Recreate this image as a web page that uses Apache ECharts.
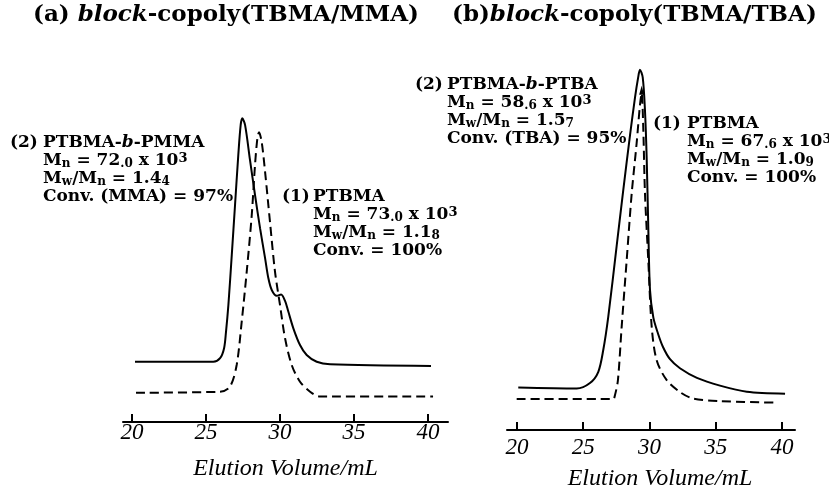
<!DOCTYPE html>
<html>
<head>
<meta charset="utf-8">
<script src="https://cdn.jsdelivr.net/npm/echarts@6/dist/echarts.min.js"></script>
<title>GPC block copolymers</title>
<style>
  html, body { margin: 0; padding: 0; background: #fff; }
  #main { width: 829px; height: 491px; }
</style>
</head>
<body>
<div id="main"></div>
<script>
// elution volume (mL) and detector signal (arb. units)

// (a) TBMA/MMA : (2) PTBMA-b-PMMA, solid
var volA2 = [20.2, 25.49, 25.95, 26.22, 26.35, 26.51, 26.74, 26.96, 27.18, 27.34, 27.45, 27.64, 27.97, 28.31, 28.65, 28.99, 29.21, 29.44, 29.78, 30.07, 30.34, 30.56, 30.9, 31.35, 31.8, 32.48, 33.38, 40.2];
var sigA2 = [18.7, 18.7, 19.8, 22.9, 28.0, 36.3, 51.9, 67.4, 82.9, 92.2, 94.3, 92.2, 81.4, 70.5, 60.2, 50.9, 44.7, 41.0, 39.2, 39.6, 37.6, 34.3, 29.1, 23.9, 20.8, 18.7, 17.9, 17.4];
// (a) (1) PTBMA precursor, dashed
var volA1 = [20.27, 25.95, 26.62, 27.07, 27.41, 27.75, 28.09, 28.31, 28.47, 28.58, 28.76, 28.99, 29.32, 29.66, 30.0, 30.34, 30.79, 31.35, 32.03, 32.7, 40.34];
var sigA1 = [9.1, 9.4, 11.0, 17.7, 31.1, 46.7, 64.3, 79.8, 88.1, 90.0, 87.0, 77.7, 62.2, 46.7, 36.3, 26.0, 17.7, 12.5, 9.4, 7.9, 7.9];

// (b) TBMA/TBA : (2) PTBMA-b-PTBA, solid
var volB2 = [20.1, 24.51, 25.51, 26.14, 26.51, 26.89, 27.52, 28.02, 28.53, 28.91, 29.15, 29.28, 29.49, 29.66, 29.79, 29.91, 30.04, 30.29, 30.64, 31.02, 31.55, 32.3, 33.58, 35.32, 37.34, 40.23];
var sigB2 = [13.2, 12.9, 14.6, 18.1, 24.8, 35.2, 57.1, 74.5, 91.6, 103.4, 109.7, 112.0, 109.6, 99.4, 84.5, 63.1, 43.5, 35.0, 30.0, 25.8, 22.0, 19.2, 16.2, 13.8, 11.9, 11.3];
// (b) (1) PTBMA precursor, dashed
var volB1 = [19.98, 27.25, 27.4, 27.62, 27.9, 28.28, 28.66, 29.03, 29.28, 29.41, 29.53, 29.66, 29.91, 30.17, 30.54, 31.3, 32.3, 33.28, 35.32, 39.6];
var sigB1 = [9.6, 9.6, 10.9, 15.5, 32.0, 52.8, 73.6, 89.1, 100.9, 104.7, 94.1, 73.6, 52.8, 32.0, 21.7, 15.5, 11.8, 9.8, 9.0, 8.5];

var tickVals = [20, 25, 30, 35, 40];
var axisTitle = 'Elution Volume/mL';

function zip(xs, ys) {
  return xs.map(function (x, i) { return [x, ys[i]]; });
}

var serif = '"DejaVu Serif", serif';
var times = '"Liberation Serif", serif';

// rich styles for the annotation blocks
var rich = {
  r: { fontFamily: serif, fontWeight: 'bold', fontSize: 17, lineHeight: 18, color: '#000' },
  i: { fontFamily: serif, fontWeight: 'bold', fontStyle: 'italic', fontSize: 17, lineHeight: 18, color: '#000' },
  s: { fontFamily: serif, fontWeight: 'bold', fontSize: 12, lineHeight: 11, verticalAlign: 'bottom', color: '#000' },
  d: { fontFamily: serif, fontWeight: 'bold', fontSize: 12, lineHeight: 14, verticalAlign: 'bottom', color: '#000' },
  u: { fontFamily: serif, fontWeight: 'bold', fontSize: 13, lineHeight: 12, verticalAlign: 'top', color: '#000' }
};
var richHead = {
  r: { fontFamily: serif, fontWeight: 'bold', fontSize: 23, color: '#000' },
  i: { fontFamily: serif, fontWeight: 'bold', fontStyle: 'italic', fontSize: 23, color: '#000' }
};

function block(left, top, text) {
  return { left: left, top: top, padding: 0, text: text, textStyle: { rich: rich } };
}

function xAxisFor(idx, min, max, labelMargin, nameGap, namePad) {
  return {
    type: 'value', gridIndex: idx, min: min, max: max,
    name: axisTitle, nameLocation: 'middle', nameGap: nameGap,
    nameTextStyle: { fontFamily: times, fontStyle: 'italic', fontSize: 24, color: '#000', padding: namePad },
    axisLine: { onZero: false, lineStyle: { color: '#000', width: 2 } },
    axisTick: { inside: true, length: 8, customValues: tickVals, lineStyle: { color: '#000', width: 2 } },
    axisLabel: { customValues: tickVals, margin: labelMargin, fontFamily: times, fontStyle: 'italic', fontSize: 23, color: '#000' },
    splitLine: { show: false }
  };
}

function trace(xi, vols, sigs, dashed) {
  return {
    type: 'line', xAxisIndex: xi, yAxisIndex: xi,
    data: zip(vols, sigs),
    symbol: 'none', smooth: 0.3,
    lineStyle: { color: '#000', width: 2, type: dashed ? [9, 5] : 'solid' }
  };
}

var myChart = echarts.init(document.getElementById('main'));

var option = {
  animation: false,
  backgroundColor: '#fff',
  title: [
    { left: 33, top: 4, padding: 0, text: '{r|(a) }{i|block}{r|-copoly(TBMA/MMA)}', textStyle: { rich: richHead } },
    { left: 452, top: 4, padding: 0, text: '{r|(b)}{i|block}{r|-copoly(TBMA/TBA)}', textStyle: { rich: richHead } },
    block(10, 134, '{r|(2)}'),
    block(43, 134, '{r|PTBMA-}{i|b}{r|-PMMA}\n{r|M}{s|n}{r| = 72}{d|.0}{r| x 10}{u|3}\n{r|M}{s|w}{r|/M}{s|n}{r| = 1.4}{d|4}\n{r|Conv. (MMA) = 97%}'),
    block(282, 188, '{r|(1)}'),
    block(313, 188, '{r|PTBMA}\n{r|M}{s|n}{r| = 73}{d|.0}{r| x 10}{u|3}\n{r|M}{s|w}{r|/M}{s|n}{r| = 1.1}{d|8}\n{r|Conv. = 100%}'),
    block(415, 76, '{r|(2)}'),
    block(447, 76, '{r|PTBMA-}{i|b}{r|-PTBA}\n{r|M}{s|n}{r| = 58}{d|.6}{r| x 10}{u|3}\n{r|M}{s|w}{r|/M}{s|n}{r| = 1.5}{d|7}\n{r|Conv. (TBA) = 95%}'),
    block(653, 115, '{r|(1)}'),
    block(687, 115, '{r|PTBMA}\n{r|M}{s|n}{r| = 67}{d|.6}{r| x 10}{u|3}\n{r|M}{s|w}{r|/M}{s|n}{r| = 1.0}{d|9}\n{r|Conv. = 100%}')
  ],
  grid: [
    { left: 123, right: 381, top: 100, bottom: 69, outerBoundsMode: 'none' },
    { left: 507, right: 34, top: 44, bottom: 61, outerBoundsMode: 'none' }
  ],
  xAxis: [
    xAxisFor(0, 19.39, 41.35, -1, 35, [0, 0, 0, 0]),
    xAxisFor(1, 19.25, 40.98, 6, 37, [0, 0, 0, 18])
  ],
  yAxis: [
    { type: 'value', gridIndex: 0, min: 0, max: 100, show: false },
    { type: 'value', gridIndex: 1, min: 0, max: 120, show: false }
  ],
  series: [
    trace(0, volA2, sigA2, false),
    trace(0, volA1, sigA1, true),
    trace(1, volB2, sigB2, false),
    Object.assign(trace(1, volB1, sigB1, true), {
      markPoint: {
        symbol: 'triangle', symbolSize: [5, 9], symbolOffset: [0, -3],
        itemStyle: { color: '#000' }, label: { show: false },
        data: [{ type: 'max' }]
      }
    })
  ]
};

myChart.setOption(option);
window.onresize = function () { myChart.resize(); };
</script>
</body>
</html>
